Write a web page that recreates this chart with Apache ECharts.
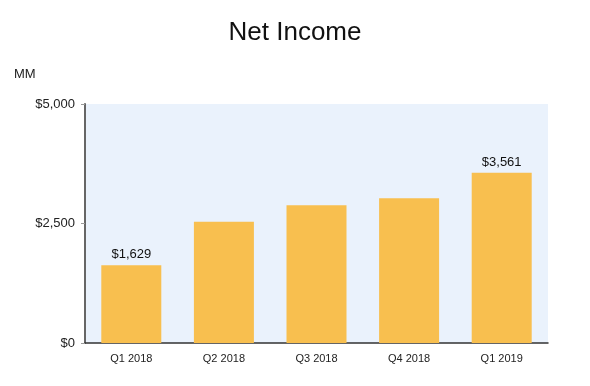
<!DOCTYPE html>
<html><head><meta charset="utf-8">
<script src="https://cdn.jsdelivr.net/npm/echarts@6/dist/echarts.min.js"></script>
<style>html,body{margin:0;padding:0;background:#fff}#c{width:590px;height:386px}</style>
</head><body><div id="c"></div>
<script>
const categories = ["Q1 2018", "Q2 2018", "Q3 2018", "Q4 2018", "Q1 2019"];
const netIncome = [1629, 2534, 2883, 3027, 3561];
const labeledIdx = [0, 4];
const yTicks = [0, 2500, 5000];

const fmt = v => '$' + v.toLocaleString('en-US');
const chart = echarts.init(document.getElementById('c'));
chart.setOption({
  animation: false,
  title: { text: 'Net Income', left: 'center', top: 15,
    textStyle: { fontFamily: 'Liberation Sans', fontSize: 26, fontWeight: 'normal', color: '#111' } },
  graphic: [{ type: 'text', left: 14, top: 68,
    style: { text: 'MM', fontFamily: 'Liberation Sans', fontSize: 13, fill: '#222' } }],
  grid: { left: 85, right: 42, top: 104, bottom: 43, show: true, backgroundColor: '#EAF2FC', borderWidth: 0 },
  xAxis: { type: 'category', data: categories,
    axisLine: { lineStyle: { color: '#333', width: 1.5 } },
    axisTick: { alignWithLabel: true, length: 4, lineStyle: { color: '#999' } },
    axisLabel: { fontFamily: 'Liberation Sans', fontSize: 11, color: '#222', margin: 10 } },
  yAxis: { type: 'value', min: 0, max: 5000, interval: 2500,
    axisLine: { show: true, lineStyle: { color: '#666', width: 2 } },
    axisTick: { show: true, length: 4, lineStyle: { color: '#999' } },
    splitLine: { show: false },
    axisLabel: { fontFamily: 'Liberation Sans', fontSize: 13, color: '#222', margin: 10,
      formatter: v => yTicks.includes(v) ? fmt(v) : '' } },
  series: [{ type: 'bar', barWidth: 60,
    data: netIncome.map((v, i) => ({ value: v,
      label: { show: labeledIdx.includes(i), position: 'top', distance: 4, formatter: p => fmt(p.value),
        fontFamily: 'Liberation Sans', fontSize: 13, color: '#111' } })),
    itemStyle: { color: '#F8BF4F' } }]
});
</script></body></html>
